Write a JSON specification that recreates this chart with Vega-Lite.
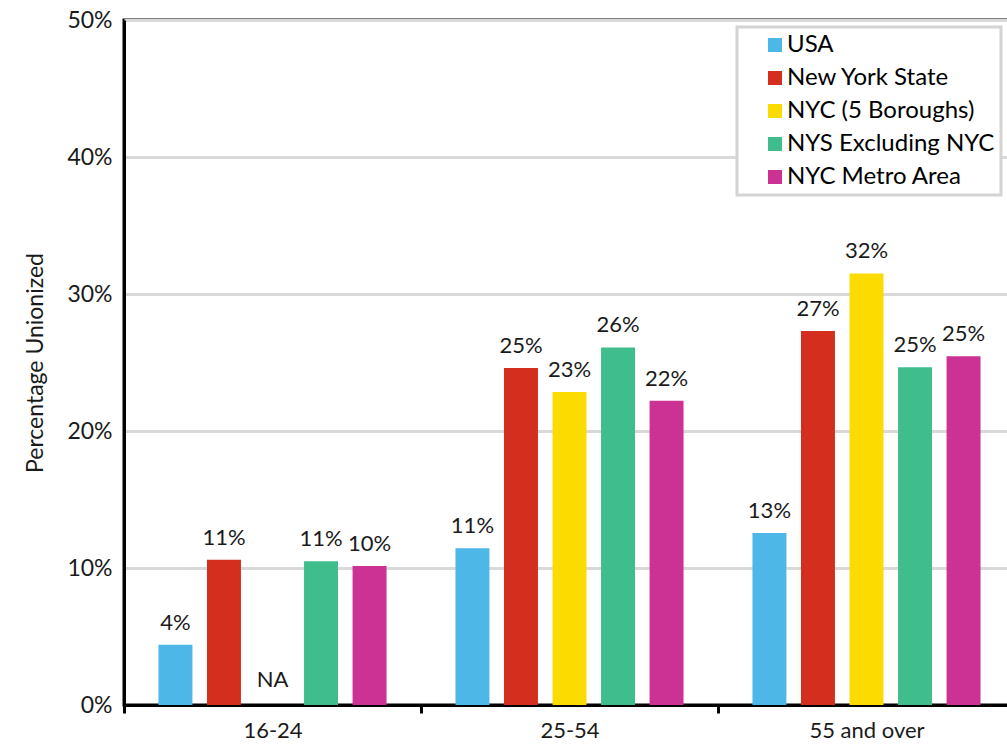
{
  "$schema": "https://vega.github.io/schema/vega-lite/v6.json",
  "width": 891,
  "height": 685,
  "autosize": {"type": "none"},
  "padding": {"left": 124, "top": 20, "right": 0, "bottom": 45},
  "background": "white",
  "config": {
    "font": "Lato",
    "view": {"stroke": "black", "strokeWidth": 3},
    "axis": {"labelFont": "Lato", "titleFont": "Lato", "labelColor": "#1a1a1a", "titleColor": "#1a1a1a"},
    "legend": {"strokeWidth": 3}
  },
  "data": {
    "values": [
      {"age": "16-24", "area": "USA", "value": 4.4, "label": "4%"},
      {"age": "16-24", "area": "New York State", "value": 10.6, "label": "11%"},
      {"age": "16-24", "area": "NYC (5 Boroughs)", "value": null, "label": "NA"},
      {"age": "16-24", "area": "NYS Excluding NYC", "value": 10.5, "label": "11%"},
      {"age": "16-24", "area": "NYC Metro Area", "value": 10.15, "label": "10%"},
      {"age": "25-54", "area": "USA", "value": 11.45, "label": "11%"},
      {"age": "25-54", "area": "New York State", "value": 24.6, "label": "25%"},
      {"age": "25-54", "area": "NYC (5 Boroughs)", "value": 22.85, "label": "23%"},
      {"age": "25-54", "area": "NYS Excluding NYC", "value": 26.1, "label": "26%"},
      {"age": "25-54", "area": "NYC Metro Area", "value": 22.2, "label": "22%"},
      {"age": "55 and over", "area": "USA", "value": 12.55, "label": "13%"},
      {"age": "55 and over", "area": "New York State", "value": 27.3, "label": "27%"},
      {"age": "55 and over", "area": "NYC (5 Boroughs)", "value": 31.5, "label": "32%"},
      {"age": "55 and over", "area": "NYS Excluding NYC", "value": 24.65, "label": "25%"},
      {"age": "55 and over", "area": "NYC Metro Area", "value": 25.45, "label": "25%"}
    ]
  },
  "encoding": {
    "x": {
      "field": "age", "type": "nominal",
      "scale": {"paddingInner": 0, "paddingOuter": 0},
      "axis": {
        "title": null, "labelAngle": 0, "labelFontSize": 22, "labelPadding": 7,
        "domainColor": "black", "domainWidth": 3,
        "tickBand": "extent", "tickColor": "black", "tickWidth": 3, "tickSize": 8,
        "grid": false
      }
    },
    "xOffset": {
      "field": "area", "type": "nominal",
      "scale": {"domain": ["USA", "New York State", "NYC (5 Boroughs)", "NYS Excluding NYC", "NYC Metro Area"], "paddingInner": 0.3, "paddingOuter": 0.71}
    }
  },
  "layer": [
    {
      "mark": {"type": "bar"},
      "encoding": {
        "y": {
          "field": "value", "type": "quantitative",
          "scale": {"domain": [0, 50], "nice": false},
          "axis": {
            "title": "Percentage Unionized", "titleFontSize": 23, "titleFontWeight": "normal", "titlePadding": 19,
            "values": [0, 10, 20, 30, 40, 50], "labelExpr": "datum.value + '%'",
            "labelFontSize": 23, "labelPadding": 12, "ticks": false,
            "domainColor": "black", "domainWidth": 3,
            "grid": true, "gridColor": "#d9d9d9", "gridWidth": 3
          }
        },
        "color": {
          "field": "area", "type": "nominal",
          "scale": {
            "domain": ["USA", "New York State", "NYC (5 Boroughs)", "NYS Excluding NYC", "NYC Metro Area"],
            "range": ["#4DB8E8", "#D42F1E", "#FCDB00", "#40BD8D", "#CC3294"]
          },
          "legend": {
            "title": null, "orient": "none", "legendX": 613, "legendY": 7,
            "strokeColor": "#d4d4d4", "fillColor": "white",
            "padding": 6, "symbolType": "square", "symbolSize": 196, "symbolOffset": 20,
            "symbolStrokeWidth": 0, "labelFontSize": 24, "labelColor": "black",
            "labelOffset": 0, "rowPadding": 9, "labelLimit": 400
          }
        }
      }
    },
    {
      "transform": [{"filter": "datum.label != 'NA'"}],
      "mark": {"type": "text", "baseline": "alphabetic", "dy": -15, "fontSize": 22, "color": "#1a1a1a"},
      "encoding": {
        "y": {"field": "value", "type": "quantitative"},
        "text": {"field": "label"}
      }
    },
    {
      "transform": [{"filter": "datum.label == 'NA'"}],
      "mark": {"type": "text", "baseline": "alphabetic", "dy": -18, "fontSize": 22, "color": "#1a1a1a"},
      "encoding": {
        "y": {"datum": 0},
        "text": {"field": "label"}
      }
    }
  ]
}
